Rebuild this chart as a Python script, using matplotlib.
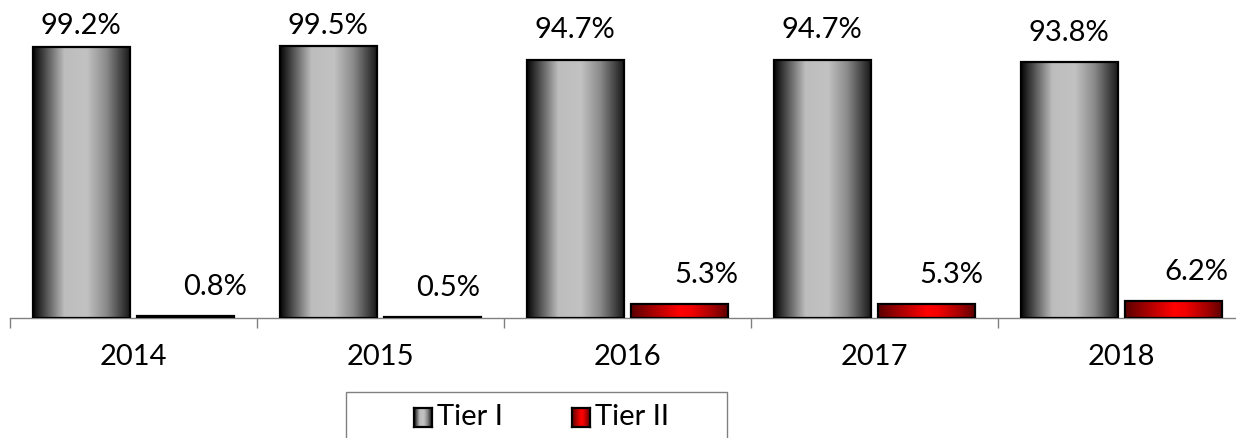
import numpy as np
import matplotlib.pyplot as plt
from matplotlib.colors import LinearSegmentedColormap
from matplotlib.patches import Rectangle

years = ["2014", "2015", "2016", "2017", "2018"]
tier1 = [99.2, 99.5, 94.7, 94.7, 93.8]
tier2 = [0.8, 0.5, 5.3, 5.3, 6.2]
series_names = ["Tier I", "Tier II"]

# horizontal "cylinder" shading used in the bars and legend swatches
grey_cmap = LinearSegmentedColormap.from_list(
    "grey_cyl",
    [(0.0, "#050505"), (0.12, "#4a4a4a"), (0.32, "#bdbdbd"),
     (0.55, "#c2c2c2"), (0.75, "#8a8a8a"), (0.92, "#3a3a3a"), (1.0, "#151515")],
)
red_cmap = LinearSegmentedColormap.from_list(
    "red_cyl",
    [(0.0, "#5a0000"), (0.2, "#a00000"), (0.5, "#ff0000"),
     (0.62, "#f20000"), (0.85, "#a00000"), (1.0, "#5a0000")],
)

plt.rcParams["font.family"] = ["Lato", "DejaVu Sans"]
FS = 21

W, H = 1236, 438
fig = plt.figure(figsize=(W / 100, H / 100), dpi=100)
ax = fig.add_axes([10 / W, 120 / H, 1235 / W, 318 / H])

ramp = np.linspace(0, 1, 256).reshape(1, -1)
bar_w = 0.393
shift = 0.2115


def gradient_bar(x_center, height, cmap):
    x0, x1 = x_center - bar_w / 2, x_center + bar_w / 2
    ax.imshow(ramp, cmap=cmap, extent=(x0, x1, 0, height), aspect="auto",
              interpolation="bilinear", zorder=2)
    ax.add_patch(Rectangle((x0, 0), bar_w, height, fill=False,
                           edgecolor="black", linewidth=1.6, zorder=3))


x = np.arange(len(years))
for i in range(len(years)):
    gradient_bar(x[i] - shift, tier1[i], grey_cmap)
    gradient_bar(x[i] + shift, tier2[i], red_cmap)

# value labels, kept below the top of the plot area
label_cap = 104.0
red_dx = [21, 11, 19, 18, 16]  # points
for i in range(len(years)):
    ax.annotate(f"{tier1[i]:.1f}%", (x[i] - shift, min(tier1[i] + 7.7, label_cap)),
                ha="center", va="baseline", fontsize=FS)
    ax.annotate(f"{tier2[i]:.1f}%", (x[i] + shift, min(tier2[i] + 7.7, label_cap)),
                xytext=(red_dx[i], 0), textcoords="offset points",
                ha="center", va="baseline", fontsize=FS)

ax.set_xlim(-0.5, len(years) - 0.5)
ax.set_ylim(0, 116.5)
ax.set_yticks([])
for side in ["left", "right", "top"]:
    ax.spines[side].set_visible(False)
ax.spines["bottom"].set_color("#808080")
ax.spines["bottom"].set_linewidth(1.0)
ax.set_xticks(x)
ax.set_xticklabels(years, fontsize=FS)
ax.tick_params(axis="x", which="major", length=0, pad=19)
ax.set_xticks(np.arange(len(years) + 1) - 0.5, minor=True)
ax.tick_params(axis="x", which="minor", length=7.2, width=1.0, color="#808080")

# legend box, running off the bottom of the figure
fig.patches.append(Rectangle((346 / W, -0.2), (727 - 346) / W, 0.2 + (438 - 392) / H,
                             transform=fig.transFigure, fill=False,
                             edgecolor="#808080", linewidth=1.0))
swatches = [(414, grey_cmap), (572, red_cmap)]
for (sx, cmap), name in zip(swatches, series_names):
    sw = fig.add_axes([sx / W, (438 - 427) / H, 18 / W, 19 / H])
    sw.imshow(ramp, cmap=cmap, aspect="auto", interpolation="bilinear")
    sw.set_xticks([])
    sw.set_yticks([])
    for sp in sw.spines.values():
        sp.set_linewidth(1.6)
    fig.text((sx + 23) / W, (438 - 417) / H, name, fontsize=FS, va="center", ha="left")

fig.savefig("out.png", dpi=100)
